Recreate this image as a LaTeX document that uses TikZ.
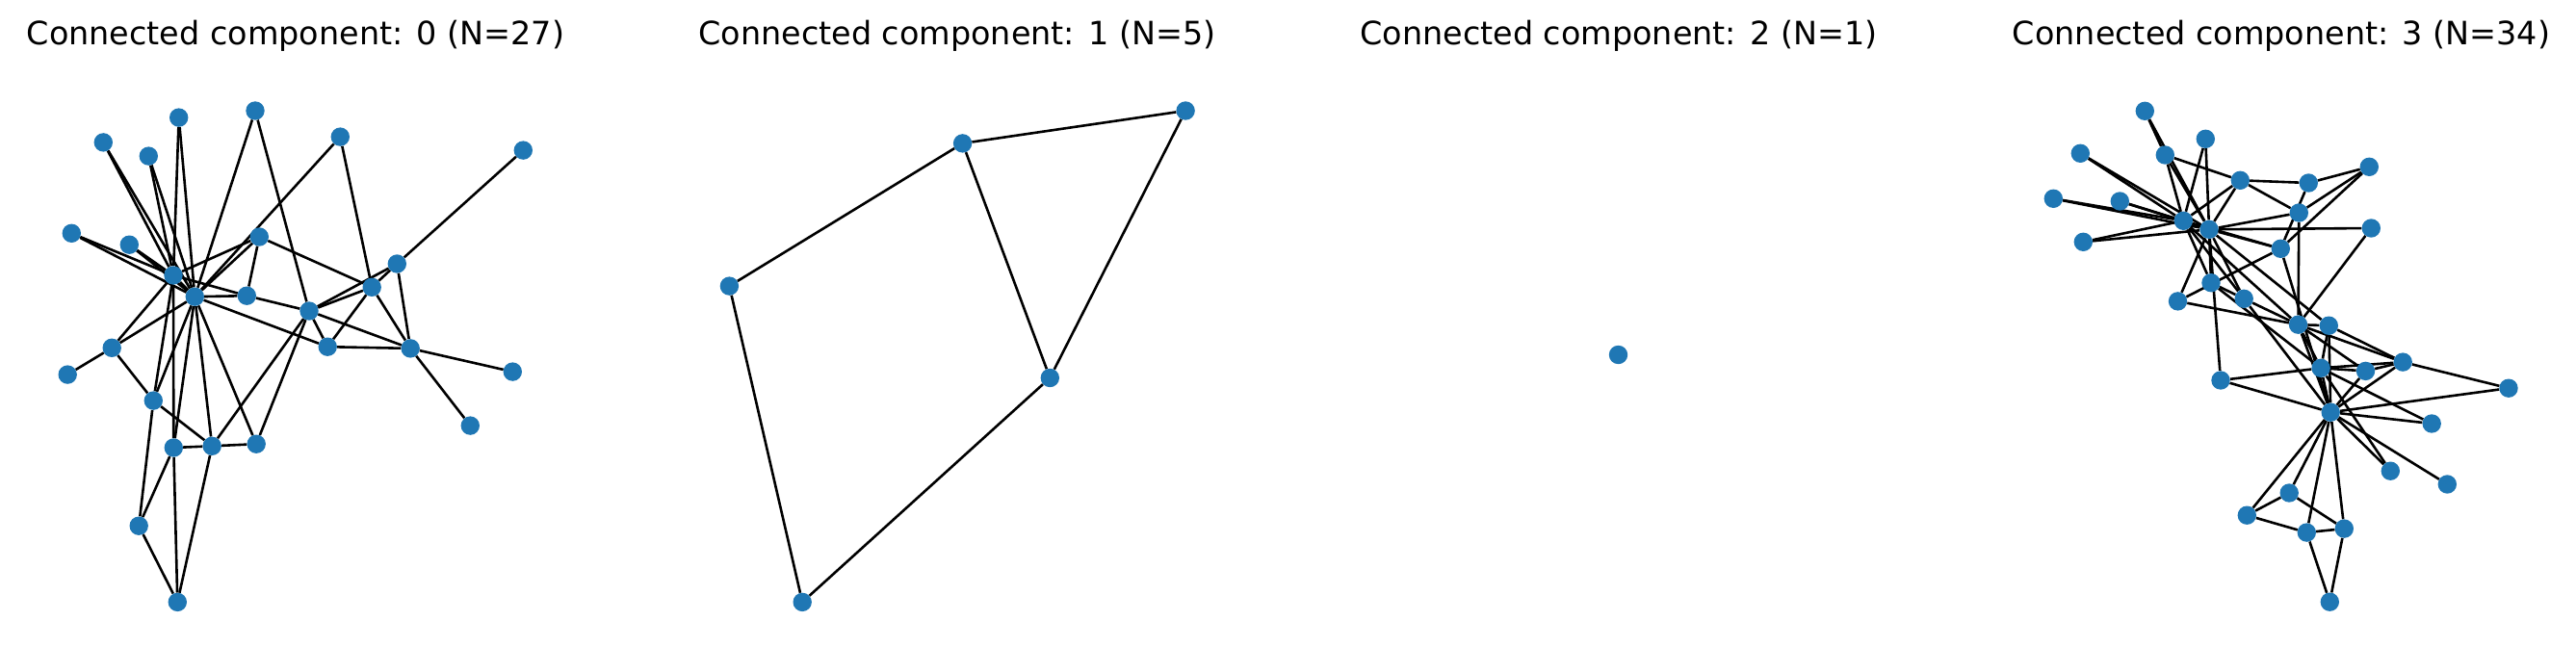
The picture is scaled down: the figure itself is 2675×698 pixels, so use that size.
\documentclass[tikz,border=0pt]{standalone}
\usepackage{fontspec}
\setmainfont{DejaVu Sans}
\usetikzlibrary{backgrounds}
\definecolor{mplblue}{RGB}{31,119,180}
\tikzset{
  vtx/.style={circle, fill=mplblue, draw=none, inner sep=0pt, minimum size=19.4pt},
  lnk/.style={black, line width=2.6pt},
  ttl/.style={anchor=base, inner sep=0pt, font=\fontsize{33.4pt}{40pt}\selectfont},
}
\begin{document}
\begin{tikzpicture}[x=1pt,y=-1pt]
\useasboundingbox (0,0) rectangle (2675,698);
% titles
\node[ttl] (t0) at (307,46.5) {Connected component: 0 (N=27)};
\node[ttl] (t1) at (994,46.5) {Connected component: 1 (N=5)};
\node[ttl] (t2) at (1681,46.5) {Connected component: 2 (N=1)};
\node[ttl] (t3) at (2369,46.5) {Connected component: 3 (N=34)};
% component 0
\foreach \n/\x/\y in {A/265/115, B/185.7/122.1, C/107.3/147.9, D/154.3/162.1, E/353.3/142.1,
  F/543.3/156.1, G/74.3/242.3, H/134.3/254.2, I/269.3/246, J/180/286, K/202.3/308.2,
  L/256.3/307.2, M/412.3/274, N/386.2/298.3, O/321/323, P/340.2/360.2, Q/426.2/361.9,
  R/116.2/361.3, S/70.2/389.1, T/532.3/386.1, U/159.3/416.1, V/488.3/442.1, W/180.3/465,
  X/220.2/463.3, Y/266.2/461.2, Z/144.2/546.2, AA/184.3/625.4}
  \node[vtx] (c\n) at (\x,\y) {};
% component 1
\foreach \n/\x/\y in {1/999.6/148.9, 2/1231.1/115, 3/757.4/297.1, 4/1090.3/392.5, 5/833.2/625.4}
  \node[vtx] (q\n) at (\x,\y) {};
% component 2
\node[vtx] (s1) at (1680.5,368.5) {};
% component 3
\foreach \n/\x/\y in {0/2420.2/428.2, 1/2410.1/382.3, 2/2386.5/337.2, 3/2495.2/376.1,
  4/2377.2/512, 5/2395.3/553.1, 6/2434.3/549.1, 7/2456.5/385.4, 8/2330.2/310.3,
  9/2462.3/237, 10/2333.3/535.2, 11/2541.3/503, 12/2605/403.2, 13/2418.3/338.2,
  14/2290.3/144.3, 15/2160.3/159.3, 16/2419.3/625.2, 17/2525.2/440, 18/2132.3/206.3,
  19/2306/395, 20/2201.3/209, 21/2482.3/489.2, 22/2163.3/251.3, 23/2326.3/187.3,
  24/2460.3/173.3, 25/2397.3/190, 26/2227.3/115.3, 27/2387.3/221, 28/2261.5/312.9,
  29/2248.3/161, 30/2296/293.7, 31/2368.3/258.3, 32/2267.3/229.3, 33/2294/238.3}
  \node[vtx] (k\n) at (\x,\y) {};
\begin{scope}[on background layer]
\foreach \u/\v in {A/K, A/O, B/J, B/K, C/J, C/K, D/J, D/K, E/K, E/N, F/M, G/J, G/K,
  H/J, H/K, I/J, I/K, I/L, I/N, J/K, J/L, J/R, J/U, J/W, K/L, K/P, K/R, K/U, K/W,
  K/X, K/Y, L/O, M/N, M/O, M/Q, N/O, N/P, N/Q, O/P, O/Q, O/X, O/Y, P/Q, Q/T, Q/V,
  R/S, R/U, U/X, U/Z, W/X, W/Z, W/AA, X/Y, X/AA, Z/AA}
  \draw[lnk] (c\u) -- (c\v);
\foreach \u/\v in {3/1, 1/2, 1/4, 2/4, 4/5, 3/5}
  \draw[lnk] (q\u) -- (q\v);
\foreach \u/\v in {0/1,0/2,0/3,0/4,0/5,0/6,0/7,0/8,0/10,0/11,0/12,0/13,0/17,0/19,0/21,0/31,
  1/2,1/3,1/7,1/13,1/17,1/19,1/21,1/30,
  2/3,2/7,2/8,2/9,2/13,2/27,2/28,2/32,
  3/7,3/12,3/13,4/6,4/10,5/6,5/10,5/16,6/16,
  8/30,8/32,8/33,9/33,13/33,14/32,14/33,15/32,15/33,18/32,18/33,19/33,
  20/32,20/33,22/32,22/33,23/25,23/27,23/29,23/32,23/33,
  24/25,24/27,24/31,25/31,26/29,26/33,27/33,28/31,28/33,
  29/32,29/33,30/32,30/33,31/32,31/33,32/33}
  \draw[lnk] (k\u) -- (k\v);
\end{scope}
\end{tikzpicture}
\end{document}
